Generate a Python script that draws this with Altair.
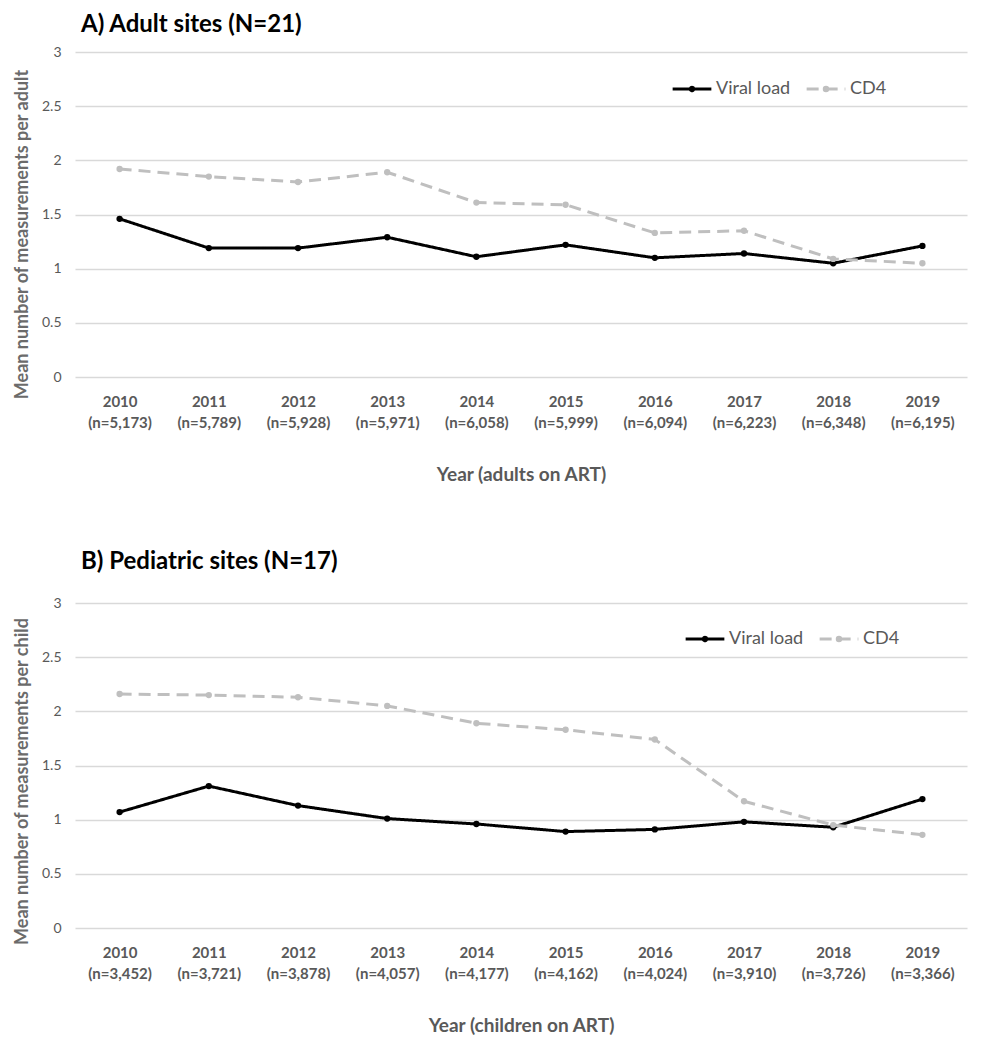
import altair as alt
import pandas as pd

years = [2010, 2011, 2012, 2013, 2014, 2015, 2016, 2017, 2018, 2019]
adult_n = [5173, 5789, 5928, 5971, 6058, 5999, 6094, 6223, 6348, 6195]
child_n = [3452, 3721, 3878, 4057, 4177, 4162, 4024, 3910, 3726, 3366]
adult_vl = [1.46, 1.19, 1.19, 1.29, 1.11, 1.22, 1.10, 1.14, 1.05, 1.21]
adult_cd4 = [1.92, 1.85, 1.80, 1.89, 1.61, 1.59, 1.33, 1.35, 1.09, 1.05]
child_vl = [1.07, 1.31, 1.13, 1.01, 0.96, 0.89, 0.91, 0.98, 0.93, 1.19]
child_cd4 = [2.16, 2.15, 2.13, 2.05, 1.89, 1.83, 1.74, 1.17, 0.95, 0.86]
series_names = ["Viral load", "CD4"]
y_ticks = [0, 0.5, 1, 1.5, 2, 2.5, 3]

FONT = "Lato"
TXT = "#595959"
# line with a dot in the middle, as a legend symbol
LEGEND_SYMBOL = "M-1,0L1,0M0.09,0A0.09,0.09,0,1,1,-0.09,0A0.09,0.09,0,1,1,0.09,0"


def make_legend(lx, ly):
    return alt.Legend(title=None, orient="none", direction="horizontal",
                      legendX=lx, legendY=ly,
                      labelFont=FONT, labelFontSize=18, labelColor=TXT,
                      symbolType=LEGEND_SYMBOL, symbolSize=1500,
                      symbolStrokeWidth=3, labelOffset=3, columnPadding=9)


def panel(vl, cd4, ns, title, ytitle, xtitle, title_offset, legend_x, legend_y, ytitle_y):
    labels = [f"{y}|(n={n:,})" for y, n in zip(years, ns)]
    df = pd.DataFrame({
        "label": labels * 2,
        "series": [series_names[0]] * len(years) + [series_names[1]] * len(years),
        "value": vl + cd4,
    })
    x = alt.X("label:N", sort=labels,
              axis=alt.Axis(title=xtitle, labelAngle=0, labelExpr="split(datum.label, '|')",
                            labelFont=FONT, labelFontSize=15, labelFontWeight="bold",
                            labelColor=TXT, labelLineHeight=21, labelPadding=17,
                            domain=False, ticks=False, grid=False,
                            titleFont=FONT, titleFontSize=19, titleFontWeight="bold",
                            titleColor=TXT, titlePadding=35))
    y = alt.Y("value:Q", scale=alt.Scale(domain=[0, 3], nice=False),
              axis=alt.Axis(title=ytitle, values=y_ticks, format="~g",
                            labelFont=FONT, labelFontSize=14, labelColor=TXT,
                            labelPadding=14, domain=False, ticks=False,
                            gridColor="#D9D9D9", gridWidth=1.3,
                            titleFont=FONT, titleFontSize=18, titleFontWeight="bold",
                            titleColor="#6b6b6b", titlePadding=10, titleY=ytitle_y))
    color = alt.Color("series:N",
                      scale=alt.Scale(domain=series_names, range=["#000000", "#BFBFBF"]),
                      legend=make_legend(legend_x, legend_y))
    dash = alt.StrokeDash("series:N",
                          scale=alt.Scale(domain=series_names, range=[[1, 0], [12, 7]]),
                          legend=make_legend(legend_x, legend_y))
    base = alt.Chart(df)
    layers = []
    point_colors = ["#000000", "#BFBFBF"]
    for s, pc in zip(series_names, point_colors):
        sub = base.transform_filter(alt.datum.series == s)
        layers.append(sub.mark_line(strokeWidth=3).encode(x=x, y=y, color=color, strokeDash=dash))
        layers.append(sub.mark_circle(size=40, opacity=1, color=pc).encode(x=x, y=y))
    return alt.layer(*layers).properties(
        width=892, height=325,
        title=alt.TitleParams(title, anchor="start", frame="group", font=FONT, fontSize=24,
                              fontWeight="bold", color="#000000", dx=6, offset=title_offset),
    )


top = panel(adult_vl, adult_cd4, adult_n, "A) Adult sites (N=21)",
            "Mean number of measurements per adult", "Year (adults on ART)",
            8, 596, 16, 182)
bottom = panel(child_vl, child_cd4, child_n, "B) Pediatric sites (N=17)",
               "Mean number of measurements per child", "Year (children on ART)",
               22, 609, 15, 178)

chart = alt.vconcat(top, bottom, spacing=66).resolve_scale(
    color="independent", strokeDash="independent"
).resolve_legend(
    color="independent", strokeDash="independent"
).configure(font=FONT, background="white").configure_view(stroke=None)

chart.save("out.html", embed_options={"renderer": "svg", "actions": False})
